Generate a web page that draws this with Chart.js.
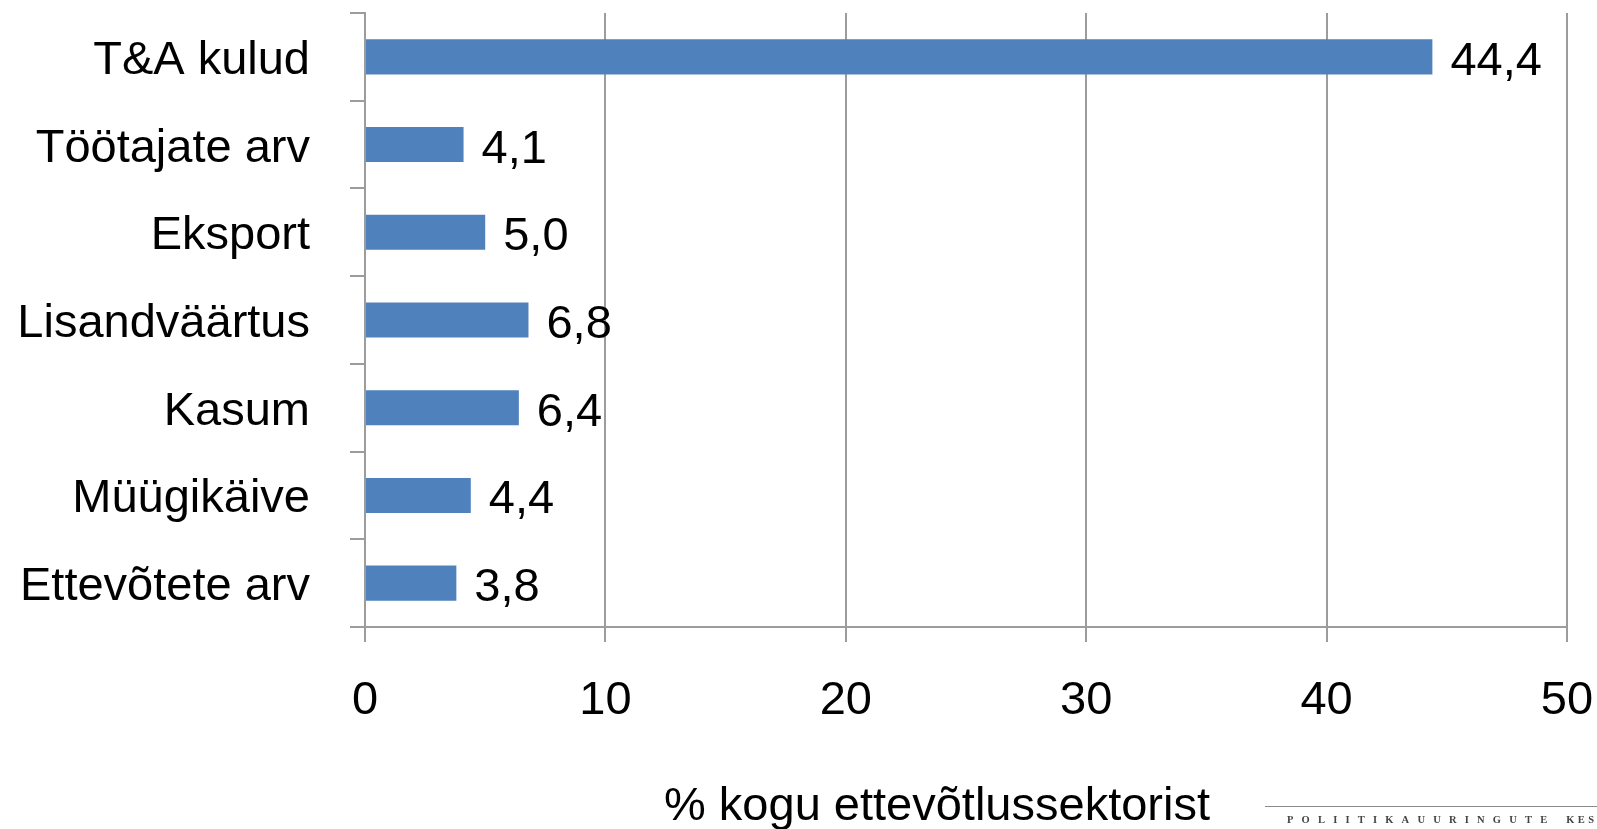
<!DOCTYPE html>
<html>
<head>
<meta charset="utf-8">
<script src="https://cdn.jsdelivr.net/npm/chart.js@4/dist/chart.umd.min.js"></script>
<style>
  body { margin: 0; background: #fff; }
  #wrap { position: relative; width: 1597px; height: 829px; overflow: hidden; }
  #logo { position: absolute; left: 1265px; top: 806px; width: 340px; border-top: 1px solid #8a8a8a;
          font-family: "Liberation Serif", serif; font-size: 10.5px; letter-spacing: 8.2px; font-weight: bold;
          color: #444; padding-left: 22px; padding-top: 8px; white-space: nowrap; line-height: 10px; }
  #logo span { letter-spacing: 3.5px; }
</style>
</head>
<body>
<div id="wrap">
  <canvas id="chart" width="1597" height="829"></canvas>
  <div id="logo">POLIITIKAUURINGUTE <span>KES</span></div>
</div>
<script>
const categories = ['T&A kulud', 'Töötajate arv', 'Eksport', 'Lisandväärtus', 'Kasum', 'Müügikäive', 'Ettevõtete arv'];
const values = [44.4, 4.1, 5.0, 6.8, 6.4, 4.4, 3.8];
const xTicks = [0, 10, 20, 30, 40, 50];
const axisTitle = '% kogu ettevõtlussektorist';

const FONT = '"Liberation Sans", Arial, sans-serif';
const gridColor = '#9c9c9c';

const valueLabels = {
    id: 'valueLabels',
    afterDatasetsDraw(chart) {
        const ctx = chart.ctx;
        const meta = chart.getDatasetMeta(0);
        ctx.save();
        ctx.font = '47px ' + FONT;
        ctx.fillStyle = '#000';
        ctx.textAlign = 'left';
        ctx.textBaseline = 'middle';
        meta.data.forEach((bar, i) => {
            ctx.fillText(values[i].toFixed(1).replace('.', ','), bar.x + 18, bar.y + 5);
        });
        ctx.restore();
    }
};

const xTitle = {
    id: 'xTitle',
    afterDraw(chart) {
        const ctx = chart.ctx;
        const area = chart.chartArea;
        ctx.save();
        ctx.font = '47px ' + FONT;
        ctx.fillStyle = '#000';
        ctx.textAlign = 'center';
        ctx.textBaseline = 'middle';
        ctx.fillText(axisTitle, (area.left + area.right) / 2 - 29, 807);
        ctx.restore();
    }
};

new Chart(document.getElementById('chart').getContext('2d'), {
    type: 'bar',
    data: {
        labels: categories,
        datasets: [{
            data: values,
            backgroundColor: '#4f81bd',
            barPercentage: 0.4,
            categoryPercentage: 1.0
        }]
    },
    options: {
        indexAxis: 'y',
        responsive: false,
        animation: false,
        layout: { padding: { top: 13, right: 30, left: 0, bottom: 0 } },
        plugins: { legend: { display: false }, tooltip: { enabled: false } },
        scales: {
            x: {
                min: 0,
                max: 50,
                afterBuildTicks: (scale) => { scale.ticks = xTicks.map(v => ({ value: v })); },
                afterFit: (scale) => { scale.height = 202; scale.paddingLeft = 0; scale.paddingRight = 0; },
                grid: { color: gridColor, lineWidth: 2, tickLength: 15 },
                border: { color: gridColor, width: 2 },
                ticks: { color: '#000', padding: 31, font: { family: FONT, size: 47 } }
            },
            y: {
                afterFit: (scale) => { scale.width = 365; scale.paddingTop = 0; scale.paddingBottom = 0; },
                grid: { offset: true, drawOnChartArea: false, color: gridColor, lineWidth: 2, tickLength: 15 },
                border: { color: gridColor, width: 2 },
                ticks: { color: '#000', padding: 40, labelOffset: 4, font: { family: FONT, size: 47 } }
            }
        }
    },
    plugins: [valueLabels, xTitle]
});
</script>
</body>
</html>
